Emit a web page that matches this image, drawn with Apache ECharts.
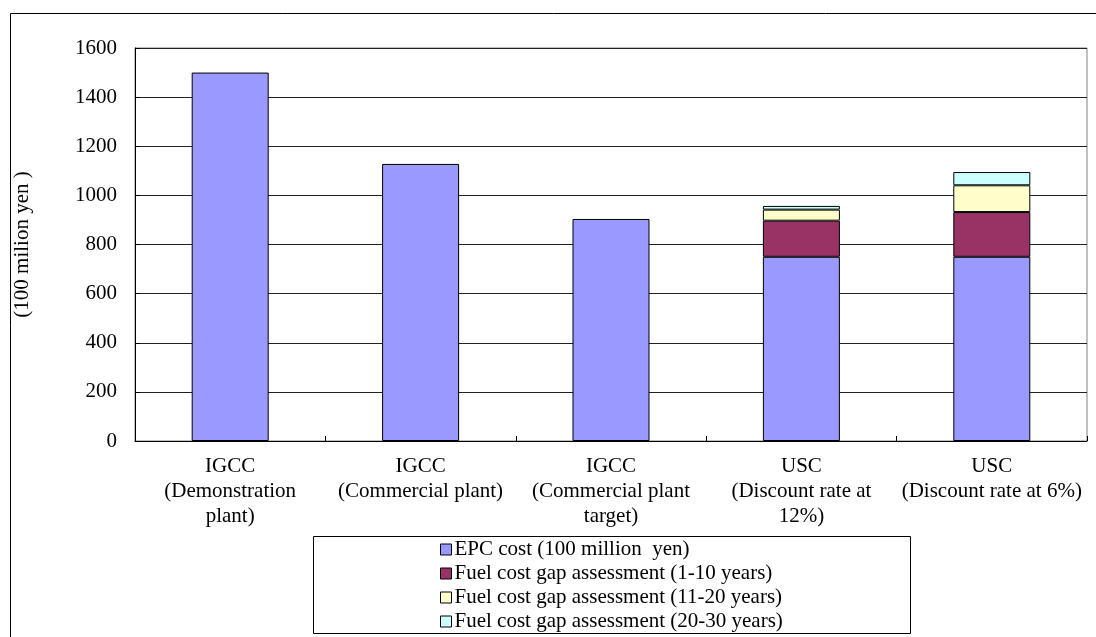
<!DOCTYPE html>
<html>
<head>
<meta charset="utf-8">
<script src="https://cdn.jsdelivr.net/npm/echarts@6/dist/echarts.min.js"></script>
<style>
  html, body { margin: 0; padding: 0; background: #fff; }
  #chart { width: 1096px; height: 637px; }
</style>
</head>
<body>
<div id="chart"></div>
<script>
// Plant types compared
const categories = [
  'IGCC\n(Demonstration\nplant)',
  'IGCC\n(Commercial plant)',
  'IGCC\n(Commercial plant\ntarget)',
  'USC\n(Discount rate at\n12%)',
  'USC\n(Discount rate at 6%)'
];

// Cost components, 100 million yen
const epcCost = [1500, 1128, 904, 750, 750];
const fuelGap1to10 = [null, null, null, 147, 182];
const fuelGap11to20 = [null, null, null, 45, 109];
const fuelGap20to30 = [null, null, null, 15, 54];

const seriesNames = [
  'EPC cost (100 million  yen)',
  'Fuel cost gap assessment (1-10 years)',
  'Fuel cost gap assessment (11-20 years)',
  'Fuel cost gap assessment (20-30 years)'
];
const seriesColors = ['#9999FF', '#993366', '#FFFFCC', '#CCFFFF'];

// y axis ticks
const yMin = 0, yMax = 1600, yStep = 200;

const FONT = "'Liberation Serif', 'Times New Roman', serif";

const chart = echarts.init(document.getElementById('chart'), null, { renderer: 'canvas' });

const makeSeries = (name, data, color) => ({
  name: name,
  type: 'bar',
  stack: 'total',
  data: data,
  barWidth: 77,
  itemStyle: { color: color, borderColor: '#000', borderWidth: 1 },
  emphasis: { disabled: true }
});

chart.setOption({
  animation: false,
  backgroundColor: '#fff',
  textStyle: { fontFamily: FONT, color: '#000' },
  graphic: [
    {
      type: 'rect',
      shape: { x: 10.5, y: 13.5, width: 1100, height: 640 },
      style: { fill: 'none', stroke: '#000', lineWidth: 1 },
      silent: true
    },
    {
      type: 'rect',
      shape: { x: 313.5, y: 536.5, width: 597, height: 97 },
      style: { fill: '#fff', stroke: '#000', lineWidth: 1 },
      silent: true,
      z: 1
    }
  ],
  grid: {
    left: 135, right: 9, top: 48, bottom: 196,
    show: true, borderColor: '#808080', borderWidth: 1
  },
  legend: {
    orient: 'vertical',
    left: 440,
    top: 539,
    padding: 0,
    itemWidth: 11,
    itemHeight: 11,
    itemGap: 3,
    icon: 'rect',
    z: 5,
    selectedMode: false,
    itemStyle: { borderColor: '#000', borderWidth: 1 },
    textStyle: { fontFamily: FONT, fontSize: 21, lineHeight: 21, color: '#000', padding: [0, 0, 0, -2] },
    data: seriesNames
  },
  xAxis: {
    type: 'category',
    data: categories,
    boundaryGap: true,
    axisLine: { lineStyle: { color: '#000', width: 1 } },
    axisTick: { show: true, inside: true, length: 5, lineStyle: { color: '#000' } },
    axisLabel: {
      interval: 0,
      margin: 13,
      fontFamily: FONT,
      fontSize: 21,
      lineHeight: 25,
      color: '#000',
      align: 'center'
    }
  },
  yAxis: {
    type: 'value',
    min: yMin,
    max: yMax,
    interval: yStep,
    name: '(100 milion yen )',
    nameLocation: 'middle',
    nameGap: 102,
    nameRotate: 90,
    nameTextStyle: { fontFamily: FONT, fontSize: 21, color: '#000' },
    axisLine: { show: true, lineStyle: { color: '#000', width: 1 } },
    axisTick: { show: true, inside: true, length: 5, lineStyle: { color: '#000' } },
    axisLabel: {
      fontFamily: FONT, fontSize: 21, color: '#000', margin: 18,
      formatter: (v) => String(v)
    },
    splitLine: { show: true, lineStyle: { color: '#222', width: 1 } }
  },
  series: [
    makeSeries(seriesNames[0], epcCost, seriesColors[0]),
    makeSeries(seriesNames[1], fuelGap1to10, seriesColors[1]),
    makeSeries(seriesNames[2], fuelGap11to20, seriesColors[2]),
    makeSeries(seriesNames[3], fuelGap20to30, seriesColors[3])
  ]
});
</script>
</body>
</html>
